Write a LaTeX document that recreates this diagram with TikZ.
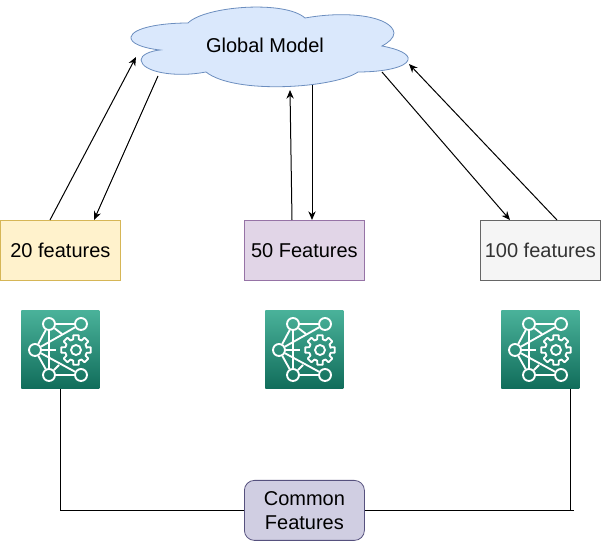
\documentclass[tikz,border=0pt]{standalone}
\usepackage{fontspec}
\setmainfont{Liberation Sans}
\usetikzlibrary{arrows.meta}
\definecolor{cloudfill}{HTML}{DAE8FC}
\definecolor{cloudline}{HTML}{6C8EBF}
\definecolor{yfill}{HTML}{FFF2CC}
\definecolor{yline}{HTML}{D6B656}
\definecolor{pfill}{HTML}{E1D5E7}
\definecolor{pline}{HTML}{9673A6}
\definecolor{gfill}{HTML}{F5F5F5}
\definecolor{gline}{HTML}{666666}
\definecolor{gtext}{HTML}{333333}
\definecolor{cfill}{HTML}{D0CEE2}
\definecolor{cline}{HTML}{56517E}
\definecolor{icontop}{HTML}{4AB29A}
\definecolor{iconbot}{HTML}{116D5B}
\tikzset{
  x=0.75pt,y=-0.75pt,
  lbl/.style={font=\fontsize{15}{18}\selectfont,align=center},
  featbox/.style={lbl,draw,line width=0.6pt,minimum width=90pt,minimum height=45pt,inner sep=0pt,anchor=north west},
  link/.style={draw=black,line width=0.75pt,-{Stealth[length=6.5pt,width=5.5pt]}},
  plainlink/.style={draw=black,line width=0.75pt},
  iconline/.style={draw=white,line width=1.4pt},
  iconbg/.style={minimum width=58.5pt,minimum height=58.5pt,inner sep=0pt,anchor=north west,top color=icontop,bottom color=iconbot,draw=none},
  dot/.style={circle,draw=white,line width=1.4pt,minimum size=9pt,inner sep=0pt}
}
\newcommand{\mlicon}[3]{%
  \node[iconbg] (#1) at (#2,#3) {};
  \begin{scope}[shift={(#2,#3)}]
    \node[dot] (#1a) at (28,14) {};
    \node[dot] (#1b) at (60,14) {};
    \node[dot] (#1c) at (14,40) {};
    \node[dot] (#1d) at (28,65) {};
    \node[dot] (#1e) at (60,65) {};
    \draw[iconline] (#1a) -- (#1b);
    \draw[iconline] (#1d) -- (#1e);
    \draw[iconline] (#1a) -- (#1c);
    \draw[iconline] (#1d) -- (#1c);
    \draw[iconline] (#1a) -- (#1d);
    \draw[iconline] (#1c) -- (#1b);
    \draw[iconline] (#1c) -- (#1e);
    \draw[iconline] (#1c) -- (35,40);
    \draw[iconline] (#1a) -- (41,24);
    \draw[iconline] (#1d) -- (38,55);
    \begin{scope}[shift={(55,40)}]
      \draw[iconline,line join=round] (349:11)
        \foreach \t in {0,45,...,315}{
          -- ({\t-15}:11) -- ({\t-10}:15) -- ({\t+10}:15) -- ({\t+15}:11)
        } -- cycle;
      \draw[iconline] (0,0) circle[radius=5];
    \end{scope}
  \end{scope}
}
\begin{document}
\begin{tikzpicture}
\useasboundingbox (0,0) rectangle (601,541);
% cloud
\draw[fill=cloudfill,draw=cloudline,line width=0.6pt]
  (188,23) .. controls (205,6) and (285,0) .. (305,18)
  .. controls (350,10) and (392,17) .. (394,33)
  .. controls (394,38) and (388,43) .. (382,46)
  .. controls (398,49) and (410,54) .. (408,60)
  .. controls (406,67) and (385,72) .. (358,72)
  .. controls (335,88) and (235,95) .. (206,72)
  .. controls (175,78) and (142,72) .. (141,60)
  .. controls (141,55) and (150,51) .. (160,50)
  .. controls (142,48) and (130,43) .. (131,37)
  .. controls (133,28) and (160,23) .. (188,23) -- cycle;
\node[lbl] (global) at (265,45) {Global Model};
% feature boxes
\node[featbox,fill=yfill,draw=yline] (f20) at (0,220) {20 features};
\node[featbox,fill=pfill,draw=pline] (f50) at (244,220) {50 Features};
\node[featbox,fill=gfill,draw=gline,text=gtext] (f100) at (480,220) {100 features};
% free ends near the cloud
\coordinate (ca) at (136,57);
\coordinate (cb) at (158,76);
\coordinate (cc) at (290,90);
\coordinate (cd) at (312,85);
\coordinate (ce) at (382,72);
\coordinate (cf) at (409,64);
\coordinate (fa) at (50,220);
\coordinate (fb) at (94,220);
\coordinate (fc) at (292,220);
\coordinate (fd) at (312,220);
\coordinate (fe) at (510,220);
\coordinate (ff) at (557,220);
\draw[link] (fa) -- (ca);
\draw[link] (cb) -- (fb);
\draw[link] (fc) -- (cc);
\draw[link] (cd) -- (fd);
\draw[link] (ce) -- (fe);
\draw[link] (ff) -- (cf);
% icons
\mlicon{ia}{21}{310}
\mlicon{ib}{265}{310}
\mlicon{ic}{501}{310}
% common
\node[lbl,draw=cline,fill=cfill,line width=0.6pt,rounded corners=7.5pt,minimum width=90pt,minimum height=45pt,inner sep=0pt,anchor=north west] (common) at (244,480) {Common\\Features};
\coordinate (endr) at (574,511);
\coordinate (elbl) at (60,511);
\coordinate (elbr) at (570,511);
\draw[plainlink] (elbl |- ia.south) -- (elbl) -- (elbl -| common.west);
\draw[plainlink] (elbl -| common.east) -- (endr);
\draw[plainlink] (elbr |- ic.south) -- (elbr);
\end{tikzpicture}
\end{document}
